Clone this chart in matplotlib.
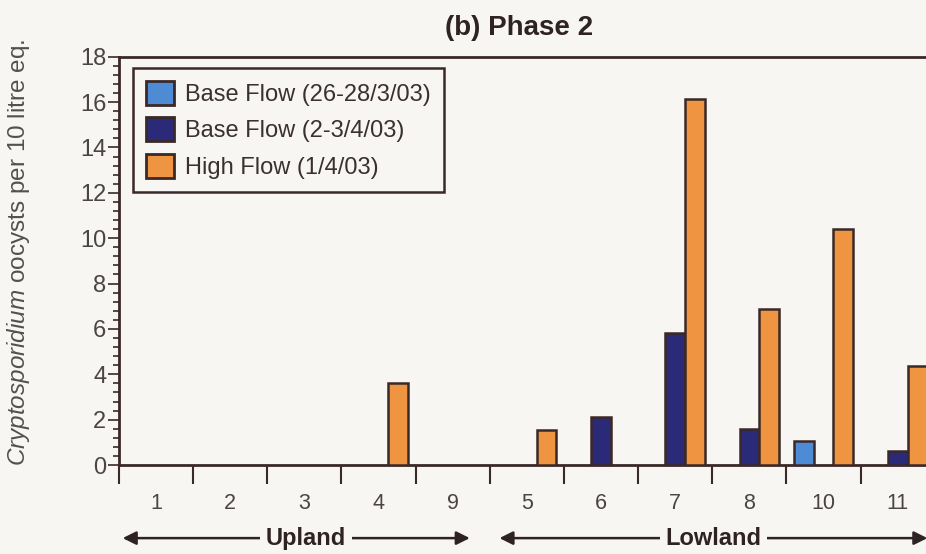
import numpy as np
import matplotlib
matplotlib.use("Agg")
import matplotlib.pyplot as plt
from matplotlib.ticker import MultipleLocator
from matplotlib.transforms import blended_transform_factory

# --- Data ---
sites = ["1", "2", "3", "4", "9", "5", "6", "7", "8", "10", "11"]
base_flow_mar = [0, 0, 0, 0, 0, 0, 0, 0, 0, 1.05, 0]      # 26-28/3/03
base_flow_apr = [0, 0, 0, 0, 0, 0, 2.1, 5.8, 1.57, 0, 0.63]  # 2-3/4/03
high_flow = [0, 0, 0, 3.62, 0, 1.55, 0, 16.15, 6.9, 10.4, 4.37]  # 1/4/03

series_labels = ["Base Flow (26-28/3/03)", "Base Flow (2-3/4/03)", "High Flow (1/4/03)"]
series_colors = ["#4d8bd4", "#2b2a78", "#ef9440"]

# --- Style ---
plt.rcParams["font.family"] = ["Liberation Sans", "DejaVu Sans"]
plt.rcParams["mathtext.fontset"] = "custom"
plt.rcParams["mathtext.it"] = "Liberation Sans:italic"
plt.rcParams["mathtext.rm"] = "Liberation Sans"

bg = "#f7f6f3"
ink = "#3b2828"
grey = "#4a4444"

fig = plt.figure(figsize=(9.26, 5.54), dpi=100, facecolor=bg)
ax = fig.add_axes([0.1285, 0.1606, 0.881, 0.737], facecolor=bg)

x = np.arange(len(sites)) + 0.5
w = 0.265
for offset, vals, col, lab in zip([-w, 0, w], [base_flow_mar, base_flow_apr, high_flow],
                                  series_colors, series_labels):
    vals = np.array(vals)
    mask = vals > 0
    ax.bar(x[mask] + offset, vals[mask], width=w, color=col, edgecolor=ink,
           linewidth=1.8, zorder=3)
    # empty proxy for the legend
    ax.bar([-5], [0], width=w, color=col, edgecolor=ink, linewidth=2, label=lab)

ax.set_xlim(0, len(sites))
ax.set_ylim(0, 18)

# x ticks on group boundaries, labels in the middle
ax.set_xticks(np.arange(len(sites)))
ax.set_xticklabels([])
ax.set_xticks(x, minor=True)
ax.set_xticklabels(sites, minor=True)
ax.tick_params(axis="x", which="major", direction="out", length=14, width=1.5, color=ink)
ax.tick_params(axis="x", which="minor", length=0, pad=20, labelsize=15.5, labelcolor=grey)

ax.yaxis.set_major_locator(MultipleLocator(2))
ax.yaxis.set_minor_locator(MultipleLocator(0.4))
ax.tick_params(axis="y", which="major", direction="out", length=8, width=1.2, color=ink,
               labelsize=17, labelcolor=grey, pad=1)
ax.tick_params(axis="y", which="minor", direction="out", length=4, width=1.2, color=ink)

for s in ["left", "bottom", "top"]:
    ax.spines[s].set_color(ink)
    ax.spines[s].set_linewidth(2)
ax.spines["right"].set_visible(False)

leg = ax.legend(loc="upper left", bbox_to_anchor=(0.017, 0.973), fontsize=17,
                frameon=True, fancybox=False, facecolor=bg, edgecolor=ink,
                handlelength=1.2, handleheight=1.2, handletextpad=0.45,
                labelspacing=0.48, borderpad=0.55, borderaxespad=0, framealpha=1,
                labelcolor="#3a3030")
leg.get_frame().set_linewidth(1.8)

ax.set_title("(b) Phase 2", fontsize=20, fontweight="bold", color="#2e2222",
             x=0.491, pad=16)

fig.text(0.02, 0.545, r"$\it{Cryptosporidium}$ oocysts per 10 litre eq.",
         rotation=90, ha="center", va="center", fontsize=17.5, color="#555050")

# region arrows under the axis
trans = blended_transform_factory(ax.transData, ax.transAxes)
arrow_y = -0.179
regions = [("Upland", 0.05, 4.73, 2.52), ("Lowland", 5.13, 10.9, 8.02)]
for name, x0, x1, xc in regions:
    ax.annotate("", xy=(x0, arrow_y), xytext=(x1, arrow_y), xycoords=trans,
                textcoords=trans, annotation_clip=False,
                arrowprops=dict(arrowstyle="<|-|>", color="#2e2222", lw=1.8,
                                mutation_scale=20, shrinkA=0, shrinkB=0))
    ax.text(xc, arrow_y, name, transform=trans, ha="center", va="center",
            fontsize=17, fontweight="bold", color="#2e2222",
            bbox=dict(facecolor=bg, edgecolor="none", pad=4))

fig.savefig("out.png", dpi=100, facecolor=bg)
